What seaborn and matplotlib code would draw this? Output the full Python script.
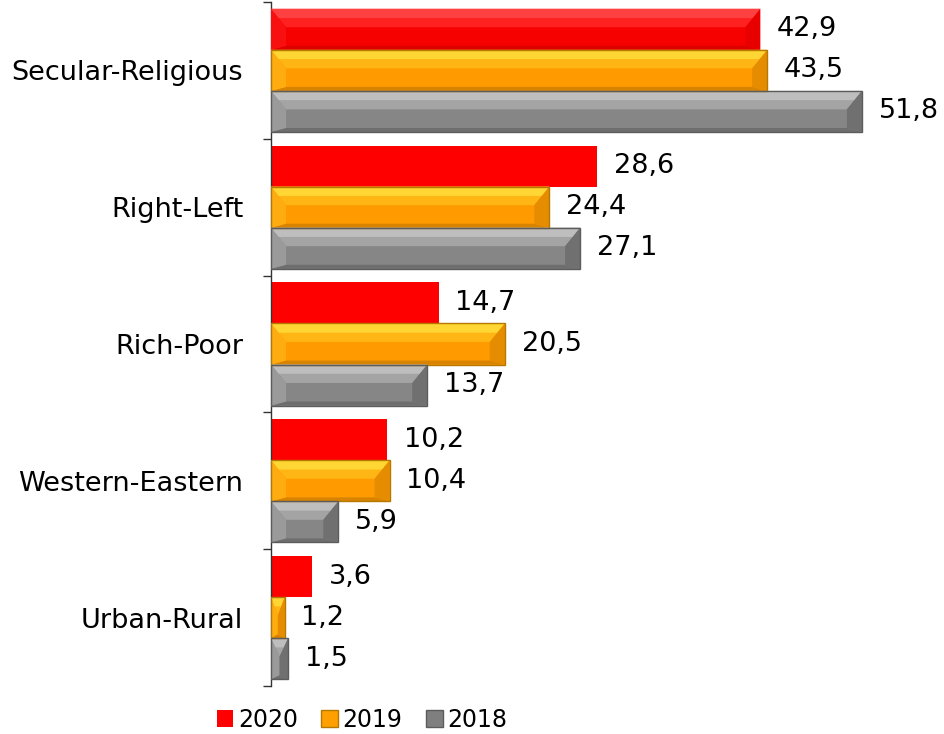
import matplotlib
matplotlib.use("Agg")
import matplotlib.pyplot as plt
from matplotlib.patches import Polygon, Patch
import seaborn as sns
import pandas as pd

categories = ["Secular-Religious", "Right-Left", "Rich-Poor", "Western-Eastern", "Urban-Rural"]
years = ["2020", "2019", "2018"]
values_2020 = [42.9, 28.6, 14.7, 10.2, 3.6]
values_2019 = [43.5, 24.4, 20.5, 10.4, 1.2]
values_2018 = [51.8, 27.1, 13.7, 5.9, 1.5]

series = {"2020": values_2020, "2019": values_2019, "2018": values_2018}
df = pd.DataFrame(
    [(c, y, v) for y in years for c, v in zip(categories, series[y])],
    columns=["category", "year", "value"],
)

base_colors = {"2020": "#FF0000", "2019": "#FF9900", "2018": "#868686"}
bevel = {
    "2020": dict(top1="#FF4040", top2="#FF2020", left="#F81010", right="#E80000",
                 bottom="#DD0000", center="#F60000", edge="none"),
    "2019": dict(top1="#FFD633", top2="#FFB514", left="#FFAC10", right="#E58C00",
                 bottom="#D88400", center="#FF9A00", edge="#B57800"),
    "2018": dict(top1="#BEBEBE", top2="#A4A4A4", left="#9A9A9A", right="#707070",
                 bottom="#6E6E6E", center="#868686", edge="#5C5C5C"),
}

sns.set_style("white")
plt.rcParams["font.family"] = ["DejaVu Sans"]

fig = plt.figure(figsize=(9.44, 7.34), dpi=100)
ax = fig.add_axes([271 / 944, 1 - 686 / 734, 1 - 271 / 944, 684 / 734])

sns.barplot(
    data=df, x="value", y="category", hue="year", order=categories,
    hue_order=years, palette=base_colors, orient="h", width=0.9,
    ax=ax, legend=False, saturation=1, linewidth=0,
)

ax.set_xlim(0, 59)
ax.set_ylim(len(categories) - 0.5, -0.5)
fig.canvas.draw()

px_x = ax.transData.transform((1, 0))[0] - ax.transData.transform((0, 0))[0]
px_y = abs(ax.transData.transform((0, 1))[1] - ax.transData.transform((0, 0))[1])
bxp = 15 / px_x
bot_p = 4 / px_y

for year, cont in zip(years, ax.containers):
    st = bevel[year]
    for i, p in enumerate(cont.patches):
        x0 = p.get_x()
        w = p.get_width()
        y0 = p.get_y()
        h = p.get_height()
        x1 = x0 + w
        y1 = y0 + h
        flat = (year == "2020" and i > 0)
        if not flat:
            bx = min(bxp, w / 2)
            bt = 0.45 * h
            bb = min(bot_p, h / 4)
            ym = y0 + bt / 2
            yt = y0 + bt
            xm = min(bx / 2, w / 2)
            polys = [
                ([(x0, y0), (x1, y0), (x1, y1), (x0, y1)], st["center"]),
                ([(x0, y0), (x1, y0), (x1 - bx, yt), (x0 + bx, yt)], st["top2"]),
                ([(x0, y0), (x1, y0), (x1 - xm, ym), (x0 + xm, ym)], st["top1"]),
                ([(x0, y1), (x1, y1), (x1 - bx, y1 - bb), (x0 + bx, y1 - bb)], st["bottom"]),
                ([(x0, y0), (x0 + bx, yt), (x0 + bx, y1 - bb), (x0, y1)], st["left"]),
                ([(x1, y0), (x1 - bx, yt), (x1 - bx, y1 - bb), (x1, y1)], st["right"]),
            ]
            for pts, col in polys:
                ax.add_patch(Polygon(pts, closed=True, facecolor=col, edgecolor="none", zorder=3))
        if st["edge"] != "none":
            ax.add_patch(plt.Rectangle((x0, y0), w, h, facecolor="none",
                                       edgecolor=st["edge"], linewidth=1.0, zorder=4))
    ax.bar_label(cont, labels=[f"{v:.1f}".replace(".", ",") for v in series[year]],
                 padding=12, fontsize=19.5, color="#000000")

# axes styling
for s in ["top", "right", "bottom"]:
    ax.spines[s].set_visible(False)
ax.spines["left"].set_color("#333333")
ax.spines["left"].set_linewidth(1.0)
ax.set_xticks([])
ax.set_xlabel("")
ax.set_ylabel("")
ax.set_yticks(range(len(categories)))
ax.set_yticklabels(categories, fontsize=19.5, color="#000000")
ax.set_yticks([i - 0.5 for i in range(len(categories) + 1)], minor=True)
ax.tick_params(axis="y", which="major", length=0, pad=20)
ax.tick_params(axis="y", which="minor", length=6, width=1.0, color="#333333", direction="out", left=True)

handles = [
    Patch(facecolor="#FF0000", edgecolor="none", label="2020"),
    Patch(facecolor="#FFA000", edgecolor="#B57800", label="2019"),
    Patch(facecolor="#7F7F7F", edgecolor="#5C5C5C", label="2018"),
]
fig.legend(handles=handles, loc="center", bbox_to_anchor=(362 / 944, 1 - 720 / 734),
           ncol=3, frameon=False, fontsize=17, handlelength=0.7, handleheight=0.7,
           handletextpad=0.2, columnspacing=1.0, labelcolor="#000000")

fig.savefig("out.png", dpi=100)
